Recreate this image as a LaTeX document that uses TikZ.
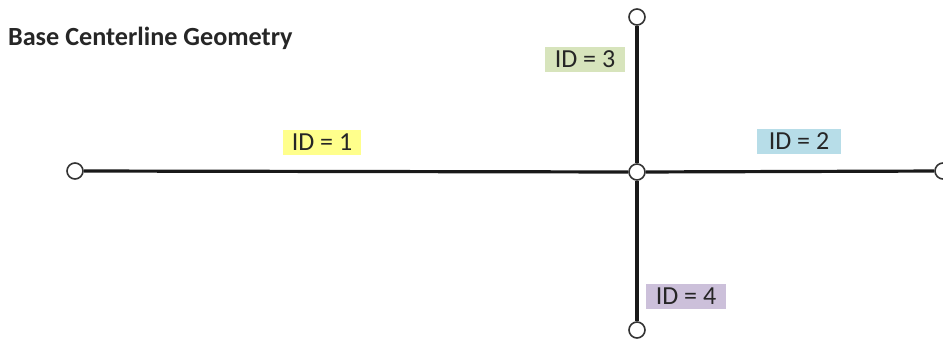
\documentclass[tikz,border=0pt]{standalone}
\usepackage{fontspec}
\setmainfont{Carlito}
\usepackage{tikz}
\usepackage{xcolor}
\definecolor{idyellow}{HTML}{FFFF8C}
\definecolor{idblue}{HTML}{B7DDE8}
\definecolor{idgreen}{HTML}{D7E4BC}
\definecolor{idpurple}{HTML}{CCC0DA}
\tikzset{
  vertex/.style={circle, draw=black!80, fill=white, line width=0.8pt, inner sep=0pt, minimum size=8pt},
  centerline/.style={line width=1.6pt, black!90},
  idlabel/.style={inner sep=0pt, minimum width=39pt, minimum height=12.5pt, font=\fontsize{13pt}{15pt}\selectfont, text=black!85}
}
\begin{document}
\begin{tikzpicture}[x=0.5pt, y=-0.5pt]
\useasboundingbox (0,0) rectangle (943,338);
\node[anchor=west, font=\fontsize{13.1pt}{15pt}\selectfont\bfseries, text=black!85] (title) at (1,38) {Base Centerline Geometry};
\node[vertex] (west) at (75,171) {};
\node[vertex] (junction) at (637,172) {};
\node[vertex] (east) at (943,171) {};
\node[vertex] (north) at (637,17) {};
\node[vertex] (south) at (637,330) {};
\draw[centerline] (west) -- (junction);
\draw[centerline] (junction) -- (east);
\draw[centerline] (junction) -- (north);
\draw[centerline] (junction) -- (south);
\node[idlabel, fill=idyellow] (id1) at (322,142) {ID = 1};
\node[idlabel, fill=idblue, minimum width=42pt] (id2) at (799,141) {ID = 2};
\node[idlabel, fill=idgreen, minimum width=40pt] (id3) at (585,59) {ID = 3};
\node[idlabel, fill=idpurple, minimum width=40pt] (id4) at (686,296) {ID = 4};
\end{tikzpicture}
\end{document}
